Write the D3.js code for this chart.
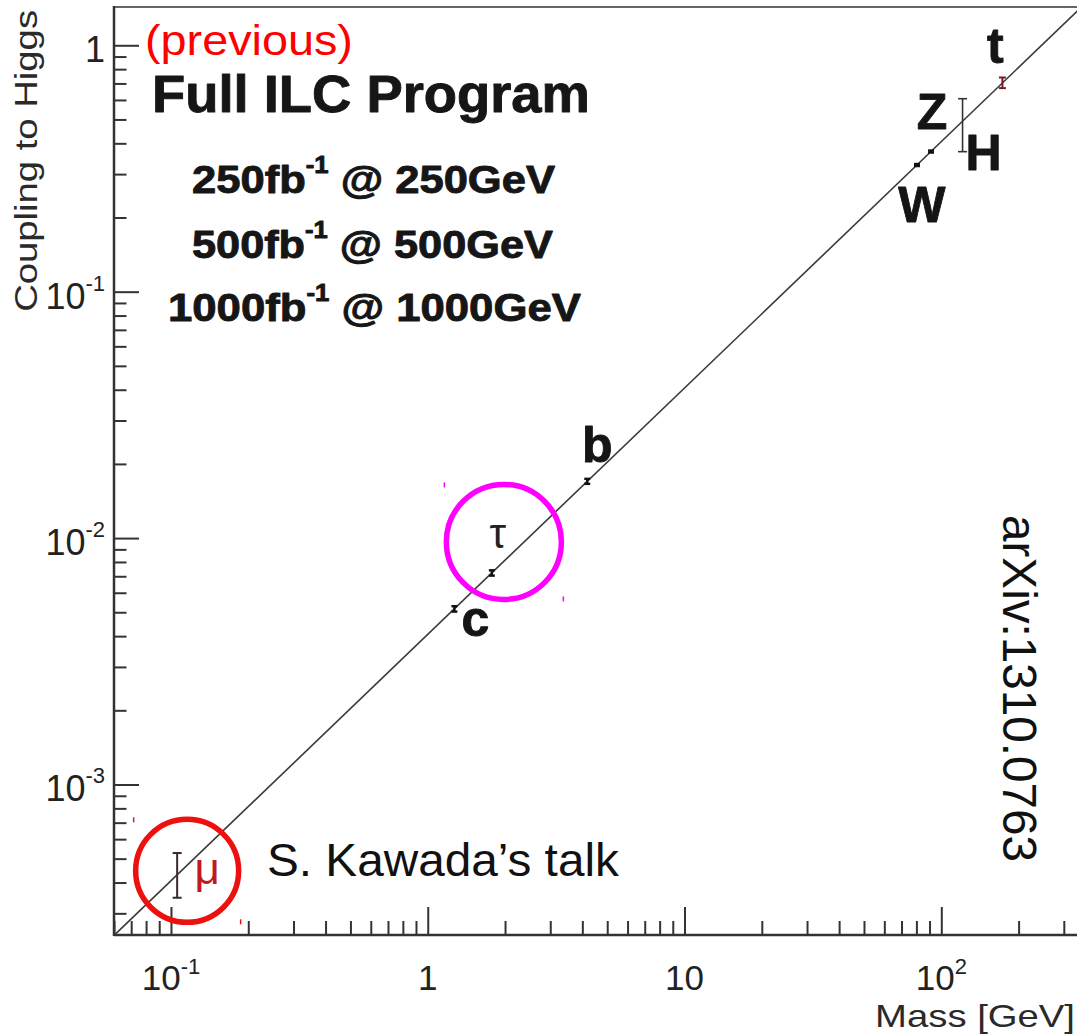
<!DOCTYPE html>
<html><head><meta charset="utf-8">
<script src="https://cdn.jsdelivr.net/npm/d3@7"></script>
<style>
html,body{margin:0;padding:0;background:#fff;}
svg{display:block;font-family:"Liberation Sans",Arial,Helvetica,sans-serif;}
</style></head><body>
<svg id="chart" width="1077" height="1035"></svg>
<script>
// Higgs couplings of the SM particles versus their mass (log-log)
const particles   = ["μ", "c", "τ", "b", "W", "Z", "H", "t"];
const masses      = [0.1057, 1.27, 1.777, 4.18, 80.4, 91.19, 121, 173];
const couplings   = [4.3e-4, 5.16e-3, 7.22e-3, 0.017, 0.3266, 0.3705, 0.492, 0.703];
const couplingLow = [3.47e-4, 5.03e-3, 7.04e-3, 0.0166, 0.3235, 0.367, 0.37, 0.67];
const couplingHigh= [5.27e-4, 5.29e-3, 7.40e-3, 0.0174, 0.3297, 0.374, 0.607, 0.74];
const vev = 246;                       // reference line: coupling = mass / v

const xMajorTicks = [0.1, 1, 10, 100];
const xTickLabels = [["10", "-1"], ["1", ""], ["10", ""], ["10", "2"]];
const yMajorTicks = [0.001, 0.01, 0.1, 1];
const yTickLabels = [["10", "-3"], ["10", "-2"], ["10", "-1"], ["1", ""]];

const runLumi   = ["250", "500", "1000"];
const runEnergy = ["250", "500", "1000"];

// ---------------------------------------------------------------------------
const svg = d3.select("#chart");
const padLeft = 114, padBottom = 935, padTop = 7;

const x = d3.scaleLog().domain([0.06, 350]).range([padLeft, 1081]);
const y = d3.scaleLog().domain([2.45e-4, 1.43]).range([padBottom, padTop]);

const axisColor = "#333";

// clip for the drawing area
svg.append("clipPath").attr("id", "plotArea")
  .append("rect").attr("x", padLeft).attr("y", padTop)
  .attr("width", 1077 - padLeft + 10).attr("height", padBottom - padTop);

// frame top edge
svg.append("line").attr("x1", padLeft).attr("x2", 1077).attr("y1", padTop).attr("y2", padTop)
  .attr("stroke", "#666").attr("stroke-width", 2);

// helpers ---------------------------------------------------------------
const isMajor = (list) => (v) => list.some(m => Math.abs(m - v) / m < 1e-6);
function styleAxis(g) {
  g.select(".domain").remove();
  g.selectAll(".tick line").attr("stroke", axisColor).attr("stroke-width", 2);
  g.selectAll(".tick text").remove();
}
// place a text, then stretch it horizontally to a given width
function placeText(tx, ty, angle, anchor, target, build) {
  const g = svg.append("g").attr("transform", `translate(${tx},${ty}) rotate(${angle})`);
  const t = g.append("text").attr("text-anchor", anchor);
  build(t);
  if (target) {
    const w = t.node().getBBox().width;
    t.attr("transform", `scale(${target / w},1)`);
  }
  return t;
}
// heavier bold look for the large labels
const heavy = (t, c) => t.attr("font-weight", "bold").attr("fill", c)
  .attr("stroke", c).attr("stroke-width", 0.9).attr("stroke-linejoin", "round");

// X axis ----------------------------------------------------------------
const xMinor = x.ticks().filter(v => !isMajor(xMajorTicks)(v));
svg.append("g").attr("transform", `translate(0,${padBottom})`)
  .call(d3.axisTop(x).tickValues(xMinor).tickSize(14).tickFormat("")).call(styleAxis);
svg.append("g").attr("transform", `translate(0,${padBottom})`)
  .call(d3.axisTop(x).tickValues(xMajorTicks).tickSize(28).tickFormat("")).call(styleAxis);

xMajorTicks.forEach((v, i) => {
  const t = svg.append("text").attr("x", x(v)).attr("y", 990)
    .attr("text-anchor", "middle").attr("font-size", 35).attr("fill", "#222");
  t.append("tspan").text(xTickLabels[i][0]);
  if (xTickLabels[i][1]) t.append("tspan").attr("font-size", 22).attr("dy", -16).text(xTickLabels[i][1]);
});

// Y axis ----------------------------------------------------------------
const yMinor = y.ticks().filter(v => !isMajor(yMajorTicks)(v));
svg.append("g").attr("transform", `translate(${padLeft},0)`)
  .call(d3.axisRight(y).tickValues(yMinor).tickSize(12.5).tickFormat("")).call(styleAxis);
svg.append("g").attr("transform", `translate(${padLeft},0)`)
  .call(d3.axisRight(y).tickValues(yMajorTicks).tickSize(25).tickFormat("")).call(styleAxis);

yMajorTicks.forEach((v, i) => {
  const t = svg.append("text").attr("x", 105).attr("y", y(v) + 17)
    .attr("text-anchor", "end").attr("font-size", 36).attr("fill", "#222");
  t.append("tspan").text(yTickLabels[i][0]);
  if (yTickLabels[i][1]) t.append("tspan").attr("font-size", 22).attr("dy", -18).text(yTickLabels[i][1]);
});

// axis lines
svg.append("line").attr("x1", padLeft).attr("x2", padLeft).attr("y1", padTop - 1).attr("y2", padBottom + 1)
  .attr("stroke", axisColor).attr("stroke-width", 2.5);
svg.append("line").attr("x1", padLeft).attr("x2", 1077).attr("y1", padBottom).attr("y2", padBottom)
  .attr("stroke", axisColor).attr("stroke-width", 2.5);

// axis titles
placeText(37, 10, -90, "end", 302, t => t.attr("font-size", 32).attr("fill", "#2a2a2a").text("Coupling to Higgs"));
placeText(1075, 1027, 0, "end", 200, t => t.attr("font-size", 32).attr("fill", "#2a2a2a").text("Mass [GeV]"));

// reference line coupling = m / v ---------------------------------------
const lineMass = [0.06, 360];
svg.append("path")
  .datum(lineMass)
  .attr("clip-path", "url(#plotArea)")
  .attr("d", d3.line().x(m => x(m)).y(m => y(m / vev)))
  .attr("stroke", "#3a3a3a").attr("stroke-width", 1.6).attr("fill", "none");

// error bars ------------------------------------------------------------
const barStyle = {
  "μ": { color: "#3a2a2a", cap: 9, width: 2 },
  "t": { color: "#7a1a24", cap: 7, width: 2 },
  "H": { color: "#333",    cap: 9, width: 1.6 },
};
const points = particles.map((p, i) => ({
  p, m: masses[i], c: couplings[i], lo: couplingLow[i], hi: couplingHigh[i]
}));
const bars = svg.append("g");
points.forEach(d => {
  const s = barStyle[d.p] || { color: "#111", cap: 6, width: 2.4 };
  const cx = x(d.m);
  bars.append("line").attr("x1", cx).attr("x2", cx).attr("y1", y(d.lo)).attr("y2", y(d.hi))
    .attr("stroke", s.color).attr("stroke-width", s.width);
  [d.lo, d.hi].forEach(v => bars.append("line")
    .attr("x1", cx - s.cap / 2).attr("x2", cx + s.cap / 2).attr("y1", y(v)).attr("y2", y(v))
    .attr("stroke", s.color).attr("stroke-width", s.width));
});

// particle labels (offsets from each point)
const labelOffset = {
  "μ": [30, 9], "c": [21, 27], "τ": [6, -25], "b": [10, -19],
  "W": [5, 57], "Z": [1, -23], "H": [21, 49], "t": [-7, -20]
};
points.forEach(d => {
  const [dx, dy] = labelOffset[d.p];
  const t = svg.append("text").attr("x", x(d.m) + dx).attr("y", y(d.c) + dy)
    .attr("text-anchor", "middle").text(d.p);
  if (d.p === "μ") t.attr("font-size", 44).attr("fill", "#c41820");
  else if (d.p === "τ") t.attr("font-size", 42).attr("fill", "#222");
  else heavy(t.attr("font-size", 50), "#151515");
});

// highlight circles around μ and τ, with their small handle marks
function ring(pIndex, dx, dy, r, color) {
  const cx = x(masses[pIndex]) + dx, cy = y(couplings[pIndex]) + dy;
  svg.append("circle").attr("cx", cx).attr("cy", cy).attr("r", r)
    .attr("fill", "none").attr("stroke", color).attr("stroke-width", 5.5);
  const R = r + 3;
  [[cx - R + 1, cy - R + 1], [cx + R - 1, cy + R - 6]].forEach(([hx, hy]) =>
    svg.append("line").attr("x1", hx).attr("x2", hx).attr("y1", hy).attr("y2", hy + 5)
      .attr("stroke", color).attr("stroke-width", 1.5));
}
ring(particles.indexOf("μ"), 10, -4, 51.5, "#ee0f0f");
ring(particles.indexOf("τ"), 12, -31, 57.5, "#ff00ff");

// annotations -----------------------------------------------------------
placeText(145, 55, 0, "start", 208, t => t.attr("font-size", 42).attr("fill", "#ff0000").text("(previous)"));
placeText(152, 112, 0, "start", 438, t => heavy(t.attr("font-size", 52), "#161616").text("Full ILC Program"));

const runRows = [[192, 193, 363], [192, 258, 361], [168, 321, 413]];
runLumi.forEach((l, i) => {
  const [rx, ry, rw] = runRows[i];
  placeText(rx, ry, 0, "start", rw, t => {
    heavy(t.attr("font-size", 39), "#161616");
    t.append("tspan").text(l + "fb");
    t.append("tspan").attr("font-size", 23).attr("dy", -20).text("-1");
    t.append("tspan").attr("dy", 20).text(` @ ${runEnergy[i]}GeV`);
  });
});

placeText(267, 876, 0, "start", 353, t => t.attr("font-size", 46).attr("fill", "#111").text("S. Kawada’s talk"));
placeText(1003, 515, 90, "start", 347, t => t.attr("font-size", 48).attr("fill", "#111").text("arXiv:1310.0763"));
</script>
</body></html>
